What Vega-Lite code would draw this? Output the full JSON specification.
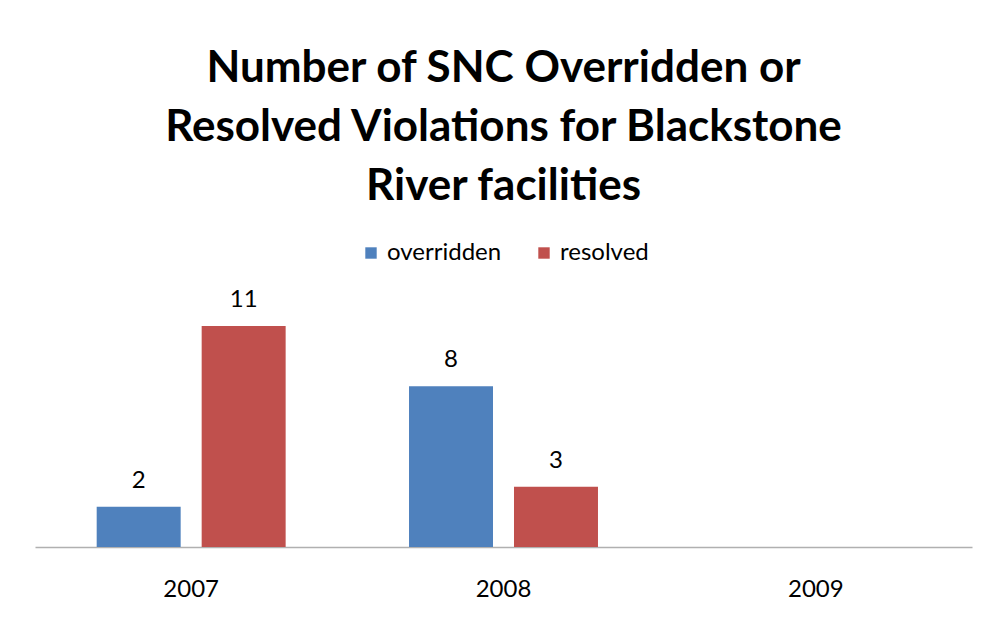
{
  "$schema": "https://vega.github.io/schema/vega-lite/v6.json",
  "autosize": "none",
  "width": 937,
  "height": 241,
  "padding": {"left": 35, "top": 306, "right": 19, "bottom": 86},
  "background": "white",
  "title": {
    "text": ["Number of SNC Overridden or", "Resolved Violations for Blackstone", "River facilities"],
    "font": "Lato",
    "fontWeight": "bold",
    "fontSize": 44,
    "lineHeight": 59,
    "color": "#000000",
    "anchor": "middle",
    "frame": "group",
    "offset": 32
  },
  "data": {
    "values": [
      {"year": "2007", "type": "overridden", "count": 2},
      {"year": "2007", "type": "resolved", "count": 11},
      {"year": "2008", "type": "overridden", "count": 8},
      {"year": "2008", "type": "resolved", "count": 3}
    ]
  },
  "encoding": {
    "x": {
      "field": "year",
      "type": "nominal",
      "scale": {"domain": ["2007", "2008", "2009"], "paddingInner": 0.395, "paddingOuter": 0.1975},
      "axis": {
        "title": null,
        "labelAngle": 0,
        "labelFont": "Lato",
        "labelFontSize": 24,
        "labelColor": "#000000",
        "labelPadding": 30,
        "ticks": false,
        "domainColor": "#b0b0b0",
        "domainWidth": 1.5
      }
    },
    "xOffset": {"field": "type", "type": "nominal", "scale": {"paddingInner": 0.2}},
    "y": {
      "field": "count",
      "type": "quantitative",
      "scale": {"domain": [0, 12]},
      "axis": null
    }
  },
  "layer": [
    {
      "mark": {"type": "bar"},
      "encoding": {
        "color": {
          "field": "type",
          "type": "nominal",
          "scale": {"domain": ["overridden", "resolved"], "range": ["#4f81bd", "#c0504d"]},
          "legend": {
            "title": null,
            "orient": "none",
            "legendX": 324,
            "legendY": -65,
            "direction": "horizontal",
            "symbolType": "square",
            "symbolSize": 130,
            "symbolStrokeWidth": 0,
            "labelFont": "Lato",
            "labelFontSize": 24,
            "labelColor": "#000000",
            "columnPadding": 30
          }
        }
      }
    },
    {
      "mark": {"type": "text", "baseline": "bottom", "dy": -14, "font": "Lato", "fontSize": 24, "color": "#000000"},
      "encoding": {
        "text": {"field": "count", "type": "quantitative"}
      }
    }
  ],
  "config": {
    "view": {"stroke": null}
  }
}
